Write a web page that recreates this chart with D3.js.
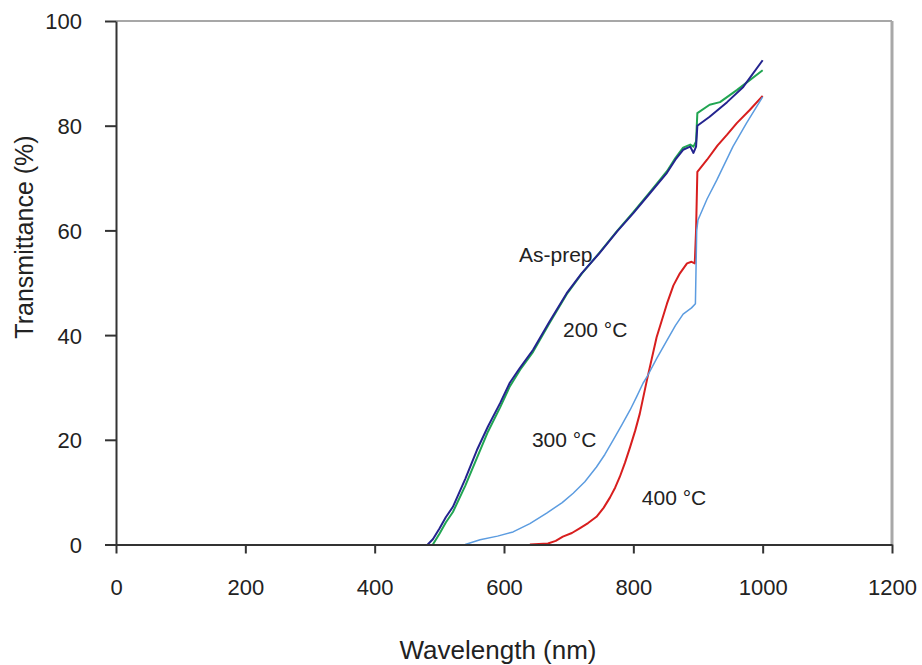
<!DOCTYPE html>
<html>
<head>
<meta charset="utf-8">
<script src="https://cdn.jsdelivr.net/npm/d3@7"></script>
<style>
  body { margin: 0; background: #fff; }
  text { font-family: "Liberation Sans", Arial, sans-serif; fill: #222; }
</style>
</head>
<body>
<svg id="chart" width="922" height="665"></svg>
<script>
// ---- data ----
var xTicks = [0, 200, 400, 600, 800, 1000, 1200];
var yTicks = [0, 20, 40, 60, 80, 100];

var asPrepNm = [482, 490, 500, 510, 521, 540, 558, 575, 594, 609, 625, 645, 670, 697, 720, 748, 775, 800, 825, 852, 865, 877, 888, 893, 897, 899, 918, 945, 970, 1000];
var asPrepT  = [0, 1, 3, 5.2, 7.2, 12.5, 18, 22.5, 27, 30.9, 33.8, 37.2, 42.5, 48, 51.8, 55.7, 59.8, 63.3, 67, 71, 73.5, 75.4, 76, 74.8, 76, 80, 81.7, 84.5, 87.4, 92.5];

var t200Nm = [490, 500, 510, 521, 540, 558, 575, 594, 609, 625, 645, 670, 697, 720, 748, 775, 800, 825, 852, 865, 877, 888, 893, 897, 899, 918, 934, 960, 1000];
var t200T  = [0, 2, 4.2, 6.2, 11.2, 16.5, 21.5, 26.2, 30.2, 33.4, 36.8, 42.2, 47.8, 51.7, 55.8, 59.9, 63.5, 67.2, 71.3, 73.8, 75.8, 76.4, 76, 77, 82.4, 84, 84.5, 86.8, 90.6];

var t300Nm = [540, 563, 590, 614, 640, 666, 690, 707, 725, 743, 756, 769, 782, 795, 805, 815, 821, 836, 852, 865, 877, 890, 896, 898, 900, 914, 929, 954, 975, 1000];
var t300T  = [0, 0.9, 1.6, 2.4, 4, 6, 8, 9.8, 12, 14.8, 17.2, 20, 22.8, 25.7, 28.2, 30.8, 32, 35.5, 39, 41.8, 44, 45.2, 46, 60, 62, 66, 69.6, 76, 80.5, 85.5];

var t400Nm = [640, 668, 680, 691, 705, 717, 730, 743, 754, 764, 772, 779, 787, 795, 803, 810, 821, 836, 852, 862, 872, 883, 890, 895, 897, 899, 914, 930, 945, 960, 980, 1000];
var t400T  = [0, 0.2, 0.7, 1.5, 2.2, 3.1, 4.1, 5.3, 7, 9, 10.9, 12.9, 15.6, 18.6, 21.8, 25, 31.4, 39.6, 46, 49.5, 51.8, 53.7, 54, 53.7, 60, 71.2, 73.5, 76.2, 78.3, 80.5, 83, 85.7];

var seriesNames  = ['As-prep', '200 °C', '300 °C', '400 °C'];
var seriesColors = ['#24248f', '#21a552', '#5c9ce0', '#d81e1e'];
var seriesWidths = [2, 2, 1.5, 2];
// label centres (data coords)
var labelNm = [680, 741, 693, 863];
var labelT  = [55.3, 41.0, 20.0, 8.9];

// ---- layout ----
var svg = d3.select('#chart');
var margin = {top: 21, right: 30, bottom: 120.5, left: 116},
    width = 922 - margin.left - margin.right,
    height = 665 - margin.top - margin.bottom;

var x = d3.scaleLinear().domain([0, 1200]).range([0, width]);
var y = d3.scaleLinear().domain([0, 100]).range([height, 0]);

var g = svg.append('g').attr('transform', 'translate(' + margin.left + ',' + margin.top + ')');

// plot frame (top & right)
g.append('line').attr('x1', 0).attr('x2', width).attr('y1', 0).attr('y2', 0)
  .attr('stroke', '#8a8a8a').attr('stroke-width', 1.5);
g.append('line').attr('x1', width).attr('x2', width).attr('y1', 0).attr('y2', height)
  .attr('stroke', '#a8a8a8').attr('stroke-width', 3);

// series
var series = seriesNames.map(function(name, i) {
  var nm = [asPrepNm, t200Nm, t300Nm, t400Nm][i];
  var tv = [asPrepT, t200T, t300T, t400T][i];
  return { name: name, values: nm.map(function(d, j) { return [d, tv[j]]; }) };
});

var line = d3.line()
  .x(function(d) { return x(d[0]); })
  .y(function(d) { return y(d[1]); });

// draw back-to-front so navy sits on green like the reference
[3, 2, 1, 0].forEach(function(i) {
  g.append('path')
    .datum(series[i].values)
    .attr('fill', 'none')
    .attr('stroke', seriesColors[i])
    .attr('stroke-width', seriesWidths[i])
    .attr('stroke-linejoin', 'round')
    .attr('d', line);
});

// axes
var xAxis = g.append('g')
  .attr('transform', 'translate(0,' + height + ')')
  .call(d3.axisBottom(x).tickValues(xTicks).tickFormat(d3.format('d'))
    .tickSize(9).tickSizeOuter(0).tickPadding(26));
var yAxis = g.append('g')
  .call(d3.axisLeft(y).tickValues(yTicks).tickFormat(d3.format('d'))
    .tickSize(11).tickSizeOuter(0).tickPadding(23));

[xAxis, yAxis].forEach(function(ax) {
  ax.select('.domain').attr('stroke', '#333').attr('stroke-width', 2);
  ax.selectAll('.tick line').attr('stroke', '#333').attr('stroke-width', 2);
  ax.selectAll('.tick text')
    .style('font-family', '"Liberation Sans", Arial, sans-serif')
    .style('font-size', '22px')
    .attr('fill', '#222');
});
yAxis.selectAll('.tick text').attr('dy', '0.36em');

// axis titles
svg.append('text')
  .attr('x', margin.left + x(600) - 6)
  .attr('y', 659)
  .attr('text-anchor', 'middle')
  .style('font-size', '26px')
  .text('Wavelength (nm)');

svg.append('text')
  .attr('transform', 'translate(33,' + 237 + ') rotate(-90)')
  .attr('text-anchor', 'middle')
  .style('font-size', '25px')
  .text('Transmittance (%)');

// series labels
seriesNames.forEach(function(name, i) {
  g.append('text')
    .attr('x', x(labelNm[i]))
    .attr('y', y(labelT[i]))
    .attr('text-anchor', 'middle')
    .attr('dy', '0.35em')
    .style('font-size', '21px')
    .text(name);
});
</script>
</body>
</html>
